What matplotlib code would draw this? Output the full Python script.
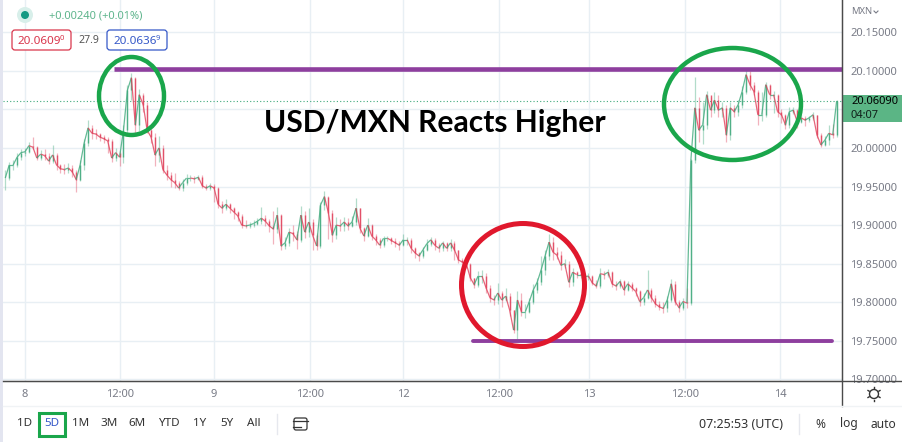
import matplotlib
matplotlib.use("Agg")
from matplotlib import pyplot as plt
from matplotlib.collections import LineCollection
from matplotlib.patches import Ellipse, Rectangle, FancyBboxPatch, Circle
import numpy as np

plt.rcParams['font.family'] = ['Noto Sans', 'DejaVu Sans']

closes = [
    19.961, 19.978, 19.978, 19.988, 19.994, 19.995, 20.003, 20.001, 19.987, 19.992,
    19.990, 19.983, 19.991, 19.978, 19.973, 19.972, 19.974, 19.969, 19.959, 19.978,
    20.006, 20.026, 20.019, 20.018, 20.014, 20.012, 20.009, 19.987, 19.994, 19.988,
    20.023, 20.075, 20.091, 20.030, 20.069, 20.056, 20.023, 20.014, 19.991, 20.000,
    19.972, 19.965, 19.959, 19.955, 19.948, 19.955, 19.961, 19.961, 19.960, 19.962,
    19.951, 19.948, 19.951, 19.948, 19.927, 19.922, 19.927, 19.922, 19.917, 19.912,
    19.900, 19.899, 19.900, 19.902, 19.905, 19.909, 19.905, 19.899, 19.895, 19.913,
    19.873, 19.877, 19.891, 19.889, 19.881, 19.913, 19.891, 19.904, 19.887, 19.873,
    19.926, 19.937, 19.916, 19.887, 19.900, 19.899, 19.904, 19.899, 19.904, 19.922,
    19.896, 19.886, 19.900, 19.886, 19.881, 19.874, 19.883, 19.883, 19.880, 19.877,
    19.874, 19.881, 19.881, 19.870, 19.864, 19.860, 19.868, 19.876, 19.881, 19.874,
    19.870, 19.877, 19.870, 19.877, 19.868, 19.855, 19.852, 19.850, 19.832, 19.823,
    19.834, 19.834, 19.819, 19.806, 19.803, 19.812, 19.803, 19.808, 19.790, 19.764,
    19.803, 19.788, 19.788, 19.801, 19.816, 19.826, 19.842, 19.860, 19.878, 19.865,
    19.861, 19.848, 19.850, 19.826, 19.839, 19.836, 19.836, 19.833, 19.834, 19.825,
    19.821, 19.837, 19.836, 19.839, 19.824, 19.821, 19.827, 19.816, 19.824, 19.819,
    19.814, 19.801, 19.806, 19.816, 19.806, 19.798, 19.794, 19.792, 19.803, 19.824,
    19.801, 19.793, 19.801, 19.799, 19.984, 20.052, 20.023, 20.030, 20.069, 20.049,
    20.062, 20.049, 20.052, 20.017, 20.052, 20.047, 20.056, 20.073, 20.095, 20.082,
    20.073, 20.043, 20.043, 20.082, 20.069, 20.069, 20.047, 20.043, 20.030, 20.047,
    20.049, 20.034, 20.039, 20.036, 20.039, 20.043, 20.017, 20.004, 20.010, 20.019,
    20.017, 20.0609,
]
highs = [
    19.972, 19.982, 19.984, 19.993, 19.998, 20.000, 20.008, 20.014, 20.002, 19.997,
    19.998, 19.994, 20.004, 19.993, 19.979, 19.979, 19.981, 19.978, 19.972, 19.984,
    20.012, 20.036, 20.030, 20.024, 20.020, 20.017, 20.014, 20.011, 20.000, 19.996,
    20.030, 20.082, 20.097, 20.092, 20.076, 20.071, 20.060, 20.026, 20.019, 20.016,
    20.004, 19.978, 19.969, 19.968, 19.957, 19.960, 19.966, 19.965, 19.964, 19.965,
    19.965, 19.953, 19.955, 19.953, 19.949, 19.931, 19.934, 19.929, 19.923, 19.918,
    19.914, 19.906, 19.904, 19.906, 19.909, 19.923, 19.913, 19.908, 19.918, 19.924,
    19.915, 19.884, 19.896, 19.900, 19.892, 19.925, 19.918, 19.922, 19.908, 19.890,
    19.930, 19.944, 19.938, 19.920, 19.910, 19.908, 19.910, 19.909, 19.912, 19.935,
    19.922, 19.897, 19.909, 19.902, 19.889, 19.883, 19.886, 19.886, 19.884, 19.883,
    19.879, 19.888, 19.885, 19.883, 19.871, 19.865, 19.872, 19.882, 19.884, 19.883,
    19.877, 19.880, 19.878, 19.882, 19.880, 19.868, 19.858, 19.856, 19.851, 19.832,
    19.840, 19.842, 19.838, 19.822, 19.810, 19.825, 19.815, 19.818, 19.812, 19.790,
    19.814, 19.812, 19.798, 19.806, 19.824, 19.832, 19.860, 19.868, 19.888, 19.884,
    19.872, 19.866, 19.856, 19.853, 19.844, 19.841, 19.840, 19.838, 19.838, 19.836,
    19.829, 19.845, 19.841, 19.843, 19.840, 19.827, 19.830, 19.829, 19.828, 19.826,
    19.820, 19.816, 19.812, 19.842, 19.818, 19.810, 19.802, 19.800, 19.808, 19.830,
    19.828, 19.803, 19.806, 19.818, 19.986, 20.092, 20.066, 20.060, 20.074, 20.066,
    20.072, 20.068, 20.060, 20.055, 20.060, 20.056, 20.062, 20.080, 20.101, 20.100,
    20.085, 20.075, 20.072, 20.086, 20.083, 20.074, 20.070, 20.050, 20.044, 20.053,
    20.053, 20.050, 20.044, 20.042, 20.042, 20.046, 20.043, 20.020, 20.016, 20.030,
    20.031, 20.062,
]
lows = [
    19.945, 19.958, 19.972, 19.975, 19.984, 19.989, 19.993, 19.998, 19.984, 19.985,
    19.984, 19.979, 19.981, 19.972, 19.968, 19.966, 19.967, 19.962, 19.943, 19.957,
    19.972, 20.003, 20.012, 20.011, 20.009, 20.006, 19.993, 19.982, 19.983, 19.977,
    19.980, 20.015, 20.062, 20.020, 20.022, 20.047, 20.019, 20.006, 19.976, 19.982,
    19.968, 19.958, 19.950, 19.948, 19.945, 19.944, 19.952, 19.957, 19.955, 19.958,
    19.948, 19.945, 19.946, 19.930, 19.922, 19.916, 19.920, 19.916, 19.908, 19.905,
    19.896, 19.896, 19.896, 19.898, 19.900, 19.902, 19.899, 19.891, 19.876, 19.890,
    19.868, 19.869, 19.873, 19.880, 19.869, 19.878, 19.883, 19.885, 19.868, 19.868,
    19.870, 19.919, 19.882, 19.878, 19.882, 19.892, 19.892, 19.894, 19.897, 19.900,
    19.890, 19.880, 19.884, 19.881, 19.874, 19.870, 19.872, 19.879, 19.876, 19.872,
    19.868, 19.873, 19.874, 19.864, 19.858, 19.853, 19.857, 19.866, 19.873, 19.868,
    19.865, 19.866, 19.866, 19.867, 19.855, 19.851, 19.846, 19.844, 19.827, 19.818,
    19.820, 19.825, 19.812, 19.800, 19.796, 19.798, 19.794, 19.802, 19.782, 19.760,
    19.752, 19.782, 19.780, 19.786, 19.798, 19.812, 19.822, 19.836, 19.855, 19.855,
    19.856, 19.842, 19.844, 19.820, 19.821, 19.831, 19.831, 19.828, 19.829, 19.822,
    19.818, 19.819, 19.830, 19.833, 19.820, 19.816, 19.819, 19.810, 19.814, 19.815,
    19.808, 19.795, 19.797, 19.804, 19.800, 19.794, 19.790, 19.786, 19.788, 19.800,
    19.796, 19.788, 19.790, 19.793, 19.797, 19.980, 20.008, 20.005, 20.025, 20.040,
    20.045, 20.040, 20.040, 20.008, 20.010, 20.040, 20.042, 20.052, 20.070, 20.075,
    20.068, 20.030, 20.035, 20.040, 20.063, 20.045, 20.040, 20.032, 20.024, 20.026,
    20.044, 20.026, 20.032, 20.028, 20.033, 20.036, 20.013, 20.001, 20.002, 20.004,
    20.013, 20.014,
]
start_hour = -2.5
candle_hours = 0.5

price_ticks = [20.15, 20.10, 20.05, 20.00, 19.95, 19.90, 19.85, 19.80, 19.75, 19.70]
price_labels = ['20.15000', '20.10000', '', '20.00000', '19.95000', '19.90000',
                '19.85000', '19.80000', '19.75000', '19.70000']
time_ticks = [0, 12, 24, 36.2, 48, 60.1, 71.6, 83.7, 95.8]
time_labels = ['8', '12:00', '9', '12:00', '12', '12:00', '13', '12:00', '14']
resistance = 20.102
support = 19.75
last_price = 20.0609
ranges = ['1D', '5D', '1M', '3M', '6M', 'YTD', '1Y', '5Y', 'All']

UP = '#3fa97c'
DOWN = '#e0405a'
GRID = '#e8eff4'
GREY = '#787b86'

fig = plt.figure(figsize=(9.03, 4.42), dpi=100)
ax = fig.add_axes([3 / 903, 1 - 381 / 442, 839 / 903, 381 / 442])
ax.set_xlim(-2.79, 103.68)
ax.set_ylim(19.698, 20.1917)

closes = np.array(closes)
opens = np.r_[closes[0], closes[:-1]]
hours = start_hour + candle_hours * np.arange(len(closes))
cols = [UP if c >= o else DOWN for o, c in zip(opens, closes)]

ax.vlines(hours, lows, highs, colors=cols, linewidth=0.9, alpha=0.4, zorder=3)
ax.vlines(hours, np.minimum(opens, closes), np.maximum(opens, closes), colors=cols,
          linewidth=1.0, alpha=0.85, zorder=4)
# joins neighbouring candles, the source is much denser than these half hour bars
segs = [[(hours[i - 1], closes[i - 1]), (hours[i], closes[i])] for i in range(1, len(closes))]
ax.add_collection(LineCollection(segs, colors=cols[1:], linewidths=0.9, alpha=0.8, zorder=4))

ax.grid(True, color=GRID, linewidth=1)
ax.set_axisbelow(True)
ax.set_xticks(time_ticks, time_labels)
ax.set_yticks(price_ticks, price_labels)
ax.yaxis.tick_right()
ax.tick_params(axis='both', length=0, labelsize=8, labelcolor=GREY)
ax.tick_params(axis='x', pad=6)
ax.tick_params(axis='y', pad=6)
for side in ['top', 'left']:
    ax.spines[side].set_visible(False)
ax.spines['bottom'].set_color('#4a4a4a')
ax.spines['right'].set_color('#4a4a4a')

ax.axhline(last_price, color=UP, linewidth=0.8, linestyle=(0, (1, 2)), zorder=2)
ax.hlines(resistance, (114 - 25) / 7.88, 103.68, color='#8e3f9e', linewidth=3.3, zorder=6)
ax.hlines(support, (473 - 25) / 7.88, (832 - 25) / 7.88, color='#8e3f9e', linewidth=2.8,
          capstyle='round', zorder=6)

# everything painted on top of the screenshot, in pixels
top = fig.add_axes([0, 0, 1, 1], zorder=5)
top.set_xlim(0, 903)
top.set_ylim(442, 0)
top.axis('off')
top.patch.set_alpha(0)

top.add_patch(Rectangle((0, 0), 3, 442, facecolor='#e3e5f0', edgecolor='none'))
top.plot([3, 903], [381, 381], color='#4a4a4a', lw=1)
top.plot([842, 842], [0, 406], color='#4a4a4a', lw=1)
top.plot([3, 903], [406, 406], color='#f0f3f5', lw=1)

top.add_patch(Ellipse((131.5, 96), 65, 78, fill=False, edgecolor='#1aa64b', lw=3.2))
top.add_patch(Ellipse((732.5, 104), 137, 112, fill=False, edgecolor='#1aa64b', lw=3.2))
top.add_patch(Ellipse((523, 285), 123, 123, fill=False, edgecolor='#e0182d', lw=3.6))

top.text(435, 123, 'USD/MXN Reacts Higher', color='black', fontsize=21.6, fontweight='bold',
         family='Lato', ha='center', va='center')

# header
top.add_patch(Circle((25, 15), 8, facecolor='#d8efea', edgecolor='none'))
top.add_patch(Circle((25, 15), 4, facecolor='#159a83', edgecolor='none'))
top.text(49, 16, '+0.00240 (+0.01%)', color='#5fb58d', fontsize=8, va='center')
top.add_patch(FancyBboxPatch((12, 30), 59, 20, boxstyle='round,pad=0,rounding_size=3',
                             facecolor='white', edgecolor='#d9364c', lw=0.9))
top.text(18, 41, '20.0609', color='#d9364c', fontsize=8.4, va='center')
top.text(60, 38.5, '0', color='#d9364c', fontsize=5.5, va='center')
top.text(79, 40.5, '27.9', color='#555555', fontsize=7.6, va='center')
top.add_patch(FancyBboxPatch((107, 30), 60, 20, boxstyle='round,pad=0,rounding_size=3',
                             facecolor='white', edgecolor='#3558c8', lw=0.9))
top.text(114, 41, '20.0636', color='#3558c8', fontsize=8.4, va='center')
top.text(156, 38.5, '9', color='#3558c8', fontsize=5.5, va='center')
top.text(851, 12, 'MXN', color=GREY, fontsize=6.8, va='center')
top.plot([874, 876, 878], [11, 13, 11], color=GREY, lw=0.8)

# last price tag
top.add_patch(Rectangle((843, 95), 60, 27, facecolor='#5bb585', edgecolor='none'))
top.text(851, 102, '20.06090', color='black', fontsize=8, va='center')
top.text(851, 115, '04:07', color='#10201a', fontsize=8, va='center')

# settings icon
top.add_patch(Circle((874, 394), 4.5, fill=False, edgecolor='#333333', lw=1))
for dx, dy in [(0, -7), (0, 7), (-6, -3.5), (6, -3.5), (-6, 3.5), (6, 3.5)]:
    top.plot([874 + dx * 0.8, 874 + dx], [394 + dy * 0.8, 394 + dy], color='#333333', lw=1)

# bottom toolbar
range_x = [25, 52, 81, 109, 137, 169, 200, 227, 254]
for name, x in zip(ranges, range_x):
    top.text(x, 424, name, color='#3558c8' if name == '5D' else '#333333', fontsize=8.4,
             ha='center', va='center')
top.add_patch(Rectangle((39.5, 413), 26, 23, fill=False, edgecolor='#1aa64b', lw=2.2))
top.plot([277, 277], [414, 434], color='#e6e8ee', lw=1)
top.plot([799, 799], [414, 434], color='#e6e8ee', lw=1)
top.add_patch(FancyBboxPatch((294, 418), 13, 12, boxstyle='round,pad=0,rounding_size=2',
                             fill=False, edgecolor='#333333', lw=0.9))
top.plot([293, 308], [421, 421], color='#333333', lw=0.9)
top.plot([293, 301], [427, 427], color='#333333', lw=0.9)
top.text(699, 424, '07:25:53 (UTC)', color='#333333', fontsize=9, va='center')
top.text(820, 424, '%', color='#333333', fontsize=8.6, ha='center', va='center')
top.text(849, 424, 'log', color='#333333', fontsize=8.6, ha='center', va='center')
top.text(883, 424, 'auto', color='#333333', fontsize=8.6, ha='center', va='center')

fig.savefig('out.png', dpi=100)
